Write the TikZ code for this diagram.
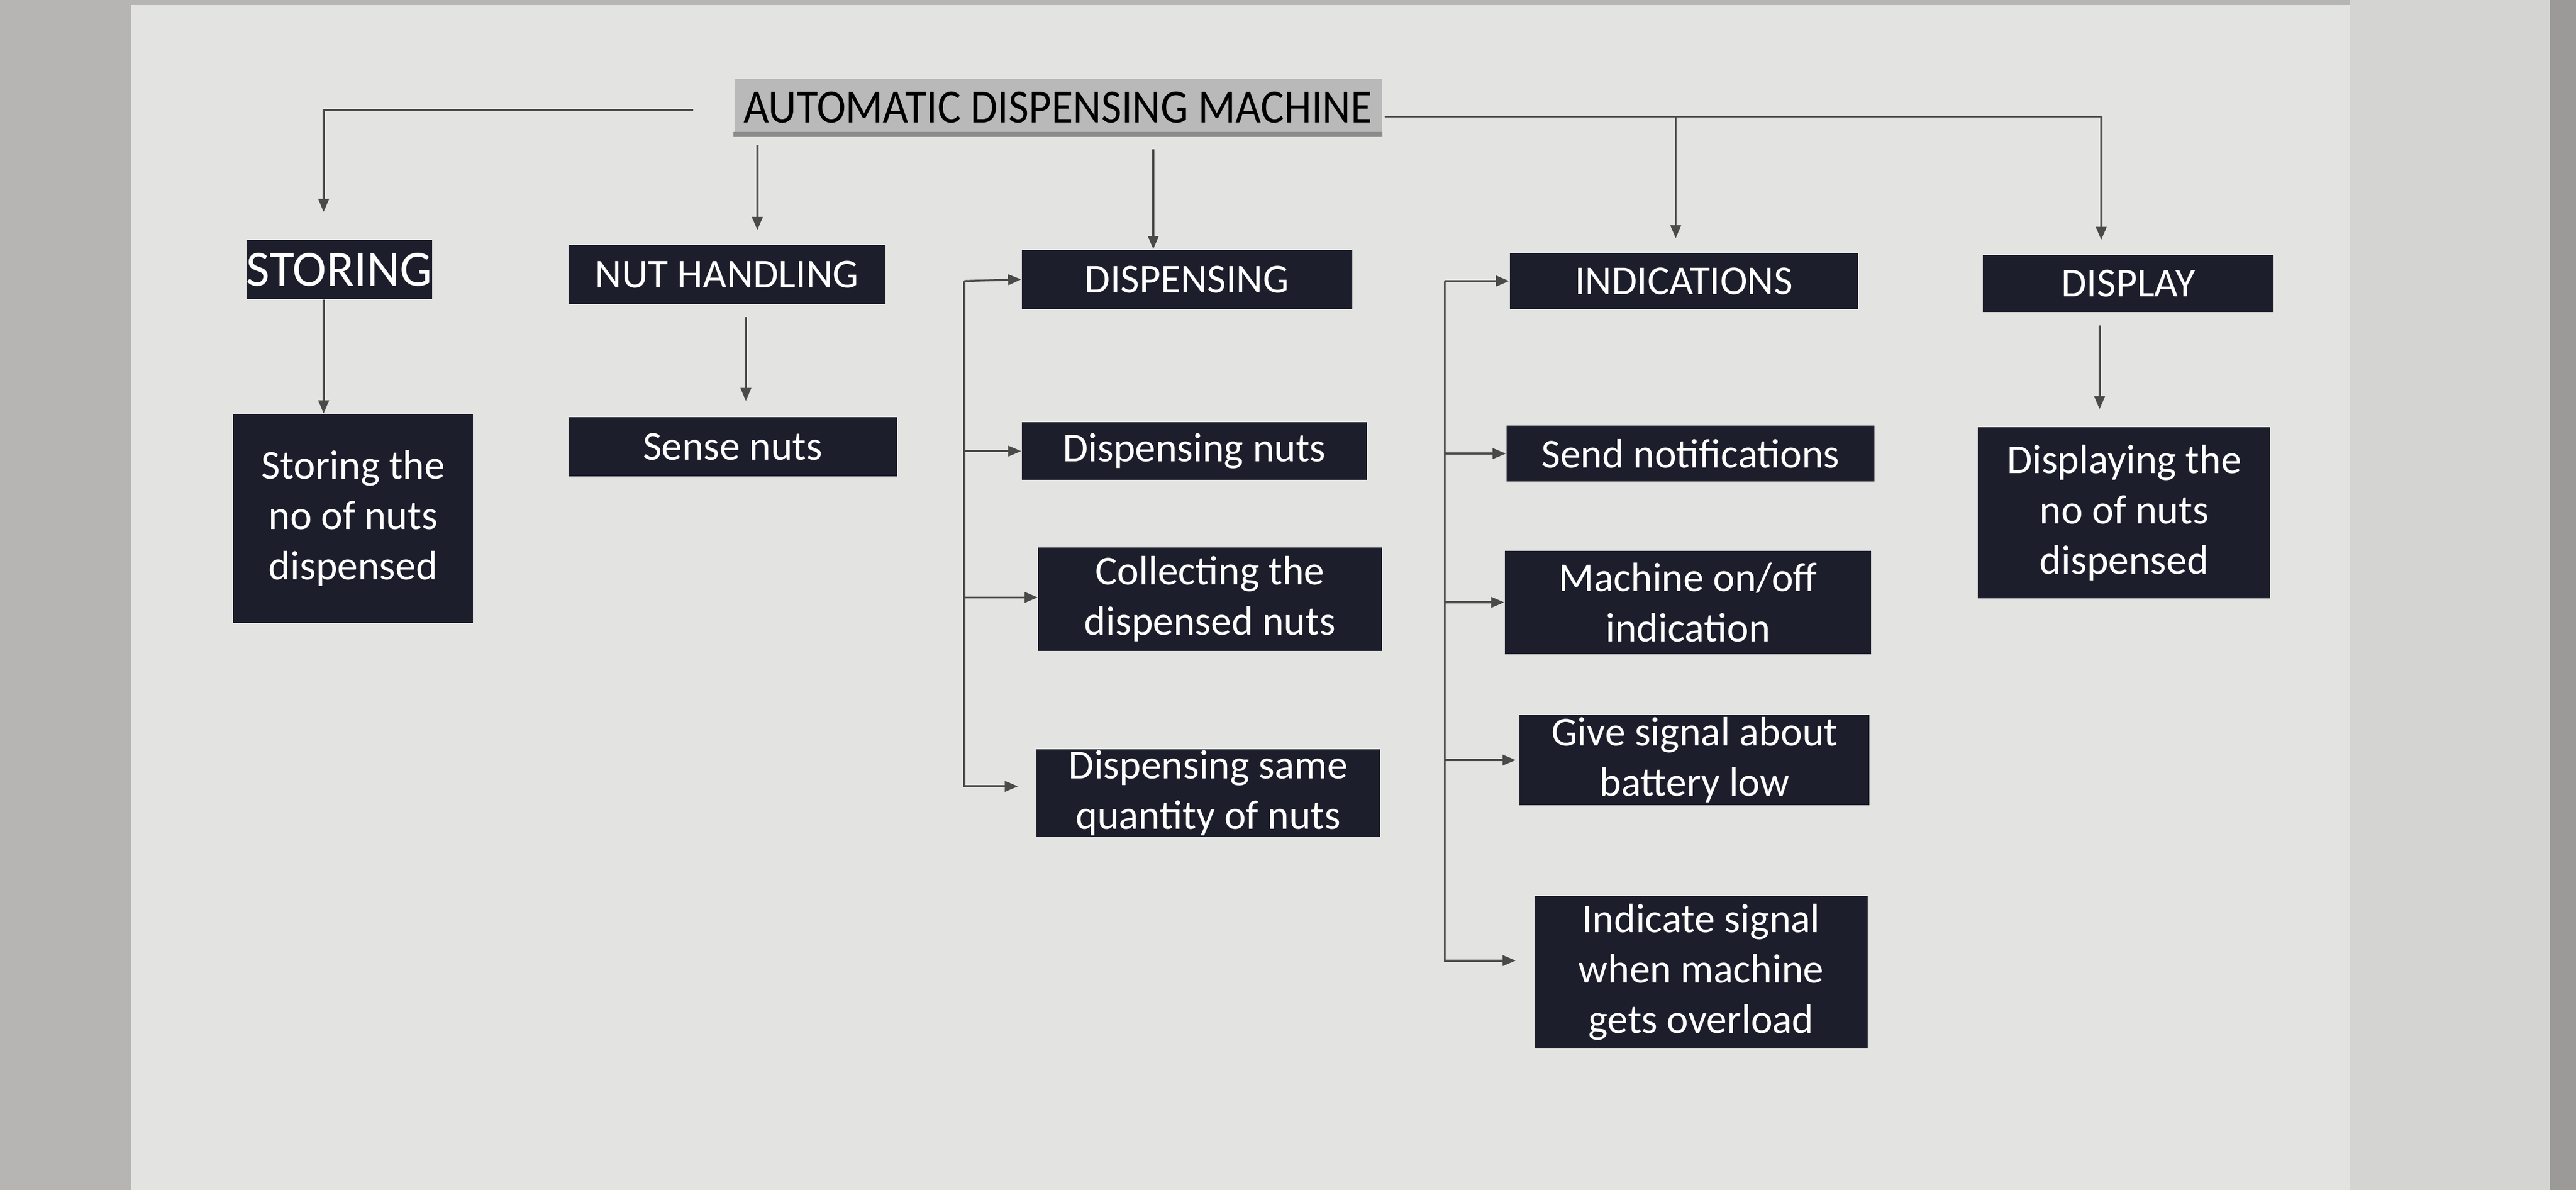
\documentclass[tikz,border=0pt]{standalone}
\usepackage{fontspec}
\setmainfont{Carlito}
\newfontfamily\titlefont[FakeStretch=0.92]{Carlito}
\usetikzlibrary{arrows.meta}

\definecolor{boxnavy}{HTML}{1C1E2B}
\definecolor{screen}{HTML}{E3E4E2}
\definecolor{bezel}{HTML}{B7B5B3}
\definecolor{rim}{HTML}{D4D4D2}
\definecolor{edge}{HTML}{9C9A98}
\definecolor{titlegray}{HTML}{B9B9B9}
\definecolor{wire}{HTML}{4A4A4A}

\tikzset{
  box/.style 2 args={minimum width=#1pt, minimum height=#2pt},
  head/.style={fill=boxnavy, text=white, inner sep=0pt, font=\fontsize{12.5}{15.3}\selectfont},
  item/.style={fill=boxnavy, text=white, inner sep=0pt, align=center, font=\fontsize{12.5}{15.3}\selectfont},
  link/.style={draw=wire, line width=0.6pt, -{Triangle[length=4pt,width=3.2pt]}},
}

\begin{document}
\begin{tikzpicture}[x=0.5pt,y=-0.5pt]
\useasboundingbox (0,0) rectangle (1568,724);
% screen and surroundings
\fill[bezel] (0,0) rectangle (1568,724);
\fill[rim] (1430,0) rectangle (1552,724);
\fill[edge] (1552,0) rectangle (1568,724);
\fill[screen] (80,3) rectangle (1430,724);

% title
\node [fill=titlegray, inner sep=0pt, box={197}{17.5}, font=\titlefont\fontsize{14.5}{16}\selectfont] (title) at (644,65.5) {AUTOMATIC DISPENSING MACHINE};
\fill[black!45] (title.south west) rectangle ([yshift=1.5pt]title.south east);

% main heads
\node [head, box={55.5}{18}, font=\fontsize{15.5}{17}\selectfont] (storH) at (206.5,164) {STORING};
\node [head, box={96.5}{18}] (nutH) at (442.5,167) {NUT HANDLING};
\node [head, box={100.5}{18}] (dispH) at (722.5,170) {DISPENSING};
\node [head, box={106}{17}] (indH) at (1025,171) {INDICATIONS};
\node [head, box={88.5}{17.5}] (dispyH) at (1295.5,172.5) {DISPLAY};

% items
\node [item, box={73}{63.5}] (storI) at (215,315.5) {Storing the\\no of nuts\\dispensed};
\node [item, box={100}{18}] (sense) at (446,272) {Sense nuts};
\node [item, box={105}{17.5}] (dispN) at (727,274.5) {Dispensing nuts};
\node [item, box={104.5}{31.5}] (coll) at (736.5,364.5) {Collecting the\\dispensed nuts};
\node [item, box={104.5}{26.5}] (same) at (735.5,482.5) {Dispensing same\\quantity of nuts};
\node [item, box={112}{17}] (send) at (1029,276) {Send notifications};
\node [item, box={111.5}{31.5}] (onoff) at (1027.5,366.5) {Machine on/off\\indication};
\node [item, box={106.5}{27.5}] (batt) at (1031.5,462.5) {Give signal about\\battery low};
\node [item, box={101.5}{46.5}] (over) at (1035.5,591.5) {Indicate signal\\when machine\\gets overload};
\node [item, box={89}{52}] (dispy) at (1293,312) {Displaying the\\no of nuts\\dispensed};

% free ends
\coordinate (tl) at (422,67);
\coordinate (storTip) at (197,129);
\coordinate (tr) at (843,71);
\coordinate (indFork) at (1020,71);
\coordinate (indTip) at (1020,145);
\coordinate (dispyTip) at (1279,146);
\coordinate (nutTop) at (461,88);
\coordinate (nutTip) at (461,140);
\coordinate (dTop) at (702,91);
\coordinate (sx) at (197,0);
\coordinate (nx1) at (454,193);
\coordinate (nx2) at (454,244);
\coordinate (dx1) at (1278,198);
\coordinate (dx2) at (1278,249);
\coordinate (dspine) at (587,171);
\coordinate (ispine) at (879.5,171);

% title to heads
\draw[link] (tl) -| (storTip);
\draw[link] (tr) -| (dispyTip);
\draw[link] (indFork) -- (indTip);
\draw[link] (nutTop) -- (nutTip);
\draw[link] (dTop) -- (dTop |- dispH.north);

% heads to items
\draw[link] (storH.south -| sx) -- (storI.north -| sx);
\draw[link] (nx1) -- (nx2);
\draw[link] (dx1) -- (dx2);

% dispensing bracket
\draw[link] (dspine) -- (dispH.west);
\draw[link] (dspine) |- (dispN.west);
\draw[link] (dspine) |- ([yshift=0.5pt]coll.west);
\draw[link, shorten >=5.5pt] (dspine) |- ([yshift=2pt]same.west);

% indications bracket
\draw[link] (ispine) -- (indH.west);
\draw[link] (ispine) |- (send.west);
\draw[link] (ispine) |- (onoff.west);
\draw[link, shorten >=1pt] (ispine) |- (batt.west);
\draw[link, shorten >=5.5pt] (ispine) |- ([yshift=3.5pt]over.west);
\end{tikzpicture}
\end{document}
